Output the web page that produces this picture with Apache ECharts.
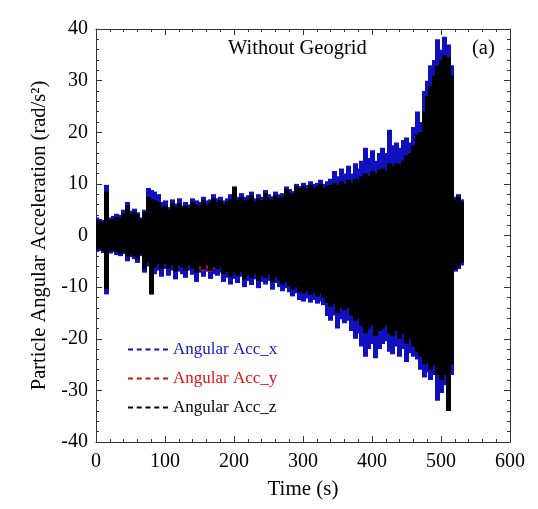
<!DOCTYPE html>
<html>
<head>
<meta charset="utf-8">
<script src="https://cdn.jsdelivr.net/npm/echarts@6/dist/echarts.min.js"></script>
<style>html,body{margin:0;padding:0;background:#fff}#c{width:538px;height:509px}</style>
</head>
<body>
<div id="c"></div>
<script>
// Time stamps (s) of the envelope readings
var times = [0,5,10,15,20,25,30,35,40,45,50,55,60,65,70,75,80,85,90,95,100,105,110,115,120,125,130,135,140,145,150,155,160,165,170,175,180,185,190,195,200,205,210,215,220,225,230,235,240,245,250,255,260,265,270,275,280,285,290,295,300,305,310,315,320,325,330,335,340,345,350,355,360,365,370,375,380,385,390,395,400,405,410,415,420,425,430,435,440,445,450,455,460,465,470,475,480,485,490,495,500,505,510,515,520,525,530];

// Angular Acc_x envelope (blue)
var accXHi = [3.5,3.2,3.0,9.8,3.5,3.8,4.2,4.0,5.0,6.5,4.8,5.2,4.5,3.5,5.0,9.2,8.8,8.5,8.0,6.5,6.8,5.5,7.0,6.2,7.2,5.8,6.5,6.0,7.2,6.8,6.5,7.5,6.8,7.0,8.0,7.2,7.5,6.8,7.2,8.0,9.0,7.5,8.2,7.5,7.8,8.5,7.2,8.0,7.5,8.8,8.0,7.6,8.5,8.0,8.2,9.5,9.0,8.6,10.0,9.6,10.2,9.8,10.5,10.0,10.2,10.8,10.0,10.5,11.0,12.5,11.5,13.0,12.0,13.5,12.0,14.0,13.0,14.5,17.0,15.0,16.5,14.5,16.0,17.0,16.0,20.5,17.5,18.0,17.0,18.5,19.0,18.0,21.0,24.0,22.0,28.0,30.0,33.0,34.0,38.0,36.0,38.5,37.0,33.0,7.5,8.0,7.0];
var accXLo = [-3.2,-3.0,-3.4,-11.4,-3.5,-3.2,-3.8,-4.0,-3.6,-5.0,-4.2,-4.6,-5.3,-4.0,-7.2,-6.0,-11.4,-7.5,-6.8,-8.0,-6.5,-7.8,-6.8,-8.5,-7.0,-7.5,-8.2,-6.8,-7.6,-9.0,-7.2,-8.0,-7.0,-8.4,-7.5,-7.8,-7.2,-9.0,-8.2,-9.5,-8.4,-9.2,-8.0,-10.0,-8.8,-9.6,-8.5,-10.2,-9.0,-9.5,-8.8,-10.5,-9.2,-10.0,-10.8,-10.2,-11.0,-11.8,-11.2,-12.5,-12.8,-12.2,-13.0,-12.5,-13.2,-12.8,-13.5,-15.6,-16.5,-15.5,-18.0,-16.2,-17.0,-16.5,-18.5,-20.0,-19.0,-21.5,-23.5,-22.0,-21.0,-23.8,-22.0,-21.0,-20.5,-22.5,-23.0,-21.5,-23.5,-22.0,-24.5,-22.8,-23.5,-24.0,-26.0,-27.5,-26.5,-28.0,-27.0,-32.0,-30.5,-29.0,-29.5,-27.0,-7.0,-6.5,-5.8];

// Angular Acc_y envelope (red)
var accYHi = [2.5,2.4,2.2,4.0,2.6,2.8,3.0,3.0,3.5,4.5,3.6,3.8,3.4,2.8,3.8,5.5,5.5,5.4,5.2,4.6,4.8,4.2,5.0,4.6,5.0,4.4,4.8,4.6,5.2,5.0,4.8,5.4,5.0,5.2,5.6,5.2,5.4,5.0,5.4,5.6,6.0,5.6,6.0,5.6,5.8,6.2,5.6,6.0,5.8,6.6,6.0,5.8,6.4,6.2,6.2,7.0,6.8,6.6,7.4,7.2,7.6,7.2,7.8,7.4,7.6,8.0,7.4,7.8,8.0,8.2,8.0,8.4,8.2,8.6,8.4,8.8,8.6,9.2,9.6,9.4,10.0,9.8,10.2,10.4,10.2,11.0,11.0,11.4,11.2,11.8,12.5,13.0,14.0,15.5,16.0,19.0,21.0,23.0,24.5,26.0,27.0,28.0,27.5,24.0,5.5,6.0,5.0];
var accYLo = [-2.3,-2.2,-2.5,-4.0,-2.5,-2.4,-2.7,-2.9,-2.7,-3.4,-3.1,-3.3,-3.7,-3.0,-4.8,-4.2,-5.0,-4.8,-4.5,-5.0,-4.5,-5.0,-4.6,-5.4,-4.6,-5.0,-5.4,-4.8,-5.2,-5.8,-6.4,-6.9,-6.3,-7.0,-6.5,-5.6,-5.0,-6.0,-5.6,-6.4,-5.8,-6.2,-5.6,-6.8,-6.0,-6.6,-6.0,-7.0,-6.2,-6.6,-6.0,-7.2,-6.4,-7.0,-7.6,-7.2,-7.8,-8.4,-8.0,-8.8,-9.0,-8.6,-9.2,-8.8,-9.4,-9.0,-9.6,-10.4,-11.0,-10.6,-12.0,-11.2,-11.6,-11.2,-12.4,-13.2,-12.8,-14.0,-15.2,-14.4,-14.0,-15.6,-14.8,-14.4,-14.0,-15.2,-15.6,-14.8,-16.0,-15.2,-16.8,-16.0,-17.2,-18.0,-18.8,-20.0,-19.6,-20.8,-20.0,-21.6,-22.4,-21.6,-24.0,-20.0,-5.0,-4.8,-4.2];

// Angular Acc_z envelope (black)
var accZHi = [3.0,2.8,2.6,8.5,3.0,3.2,3.6,3.4,4.2,5.8,4.2,4.6,4.0,3.2,4.5,7.5,7.0,6.8,6.5,5.5,5.8,5.0,6.2,5.5,6.2,5.2,5.8,5.4,6.5,6.0,5.8,6.8,6.0,6.4,7.2,6.5,6.8,6.2,6.5,7.0,9.5,6.8,7.4,6.8,7.0,7.8,6.6,7.2,6.8,8.2,7.2,6.9,7.8,7.3,7.5,9.0,8.2,8.0,9.5,9.2,9.6,9.0,9.8,9.2,9.5,10.0,9.2,9.6,9.8,10.2,9.8,10.5,10.0,10.8,10.2,11.0,10.5,11.5,12.0,11.5,12.5,12.0,12.8,13.0,12.5,14.0,13.5,14.0,13.8,14.5,15.5,16.0,17.5,19.5,20.0,24.0,27.0,29.0,31.0,33.0,34.0,35.0,34.5,31.0,7.0,7.5,6.5];
var accZLo = [-2.8,-2.6,-3.0,-10.4,-3.0,-2.8,-3.2,-3.5,-3.2,-4.2,-3.8,-4.0,-4.6,-3.6,-6.5,-5.2,-11.4,-6.2,-5.6,-6.5,-5.5,-6.4,-5.8,-7.0,-5.8,-6.2,-6.8,-5.8,-6.4,-7.2,-6.0,-6.6,-5.8,-6.8,-6.2,-6.5,-6.0,-7.5,-7.0,-8.0,-7.2,-7.8,-7.0,-8.5,-7.6,-8.2,-7.4,-8.8,-7.8,-8.2,-7.6,-9.0,-8.0,-8.8,-9.5,-9.0,-9.8,-10.5,-10.0,-11.0,-11.2,-10.8,-11.5,-11.0,-11.8,-11.2,-12.0,-13.0,-13.8,-13.2,-15.0,-14.0,-14.5,-14.0,-15.5,-16.5,-16.0,-17.5,-19.0,-18.0,-17.5,-19.5,-18.5,-18.0,-17.5,-19.0,-19.5,-18.5,-20.0,-19.0,-21.0,-20.0,-21.5,-22.5,-23.5,-25.0,-24.5,-26.0,-25.0,-27.0,-28.0,-27.0,-34.0,-25.0,-6.5,-6.0,-5.2];

var xTicks = [0,100,200,300,400,500,600];
var yTicks = [-40,-30,-20,-10,0,10,20,30,40];

function build(lo, hi){
  return times.map(function(t,i){ return [t, lo[i], hi[i]]; });
}
var half = (times[1]-times[0]) / 2;
function renderItem(params, api){
  var t = api.value(0), lo = api.value(1), hi = api.value(2);
  var p1 = api.coord([t - half, hi]);
  var p2 = api.coord([t + half, lo]);
  return {type:'rect', shape:{x:Math.floor(p1[0]), y:p1[1], width:Math.ceil(p2[0]-p1[0])+1, height:p2[1]-p1[1]},
          style:{fill: api.visual('color')}};
}
var FONT = '"Liberation Serif", "Times New Roman", serif';
function dash(){ return 'path://M0,0h5v2h-5z M8.75,0h5v2h-5z M17.5,0h5v2h-5z M26.25,0h5v2h-5z M35,0h5v2h-5z'; }

var chart = echarts.init(document.getElementById('c'));
function axisCommon(){
  return {
    axisLine:{show:true, onZero:false, lineStyle:{color:'#333', width:1}},
    axisTick:{show:true, inside:true, length:6, lineStyle:{color:'#333'}},
    minorTick:{show:true, splitNumber:5, length:3, lineStyle:{color:'#333'}},
    splitLine:{show:false}
  };
}
chart.setOption({
  animation:false,
  backgroundColor:'#fff',
  grid:{left:96, right:28, top:29, bottom:67},
  xAxis:[
    Object.assign({type:'value', min:xTicks[0], max:xTicks[xTicks.length-1], interval:100, position:'bottom',
      name:'Time (s)', nameLocation:'middle', nameGap:37,
      nameTextStyle:{fontFamily:FONT, fontSize:21, color:'#000'},
      axisLabel:{fontFamily:FONT, fontSize:20, color:'#000', margin:10}}, axisCommon()),
    Object.assign({type:'value', min:xTicks[0], max:xTicks[xTicks.length-1], interval:100, position:'top',
      axisLabel:{show:false}}, axisCommon())
  ],
  yAxis:[
    Object.assign({type:'value', min:yTicks[0], max:yTicks[yTicks.length-1], interval:10, position:'left',
      name:'Particle Angular Acceleration (rad/s²)', nameLocation:'middle', nameGap:37,
      nameTextStyle:{fontFamily:FONT, fontSize:20.5, color:'#000'},
      axisLabel:{fontFamily:FONT, fontSize:20, color:'#000', margin:8}}, axisCommon()),
    Object.assign({type:'value', min:yTicks[0], max:yTicks[yTicks.length-1], interval:10, position:'right',
      axisLabel:{show:false}}, axisCommon())
  ],
  legend:{
    orient:'vertical', left:128, top:341, padding:0, itemWidth:40, itemHeight:2, itemGap:12,
    textStyle:{fontFamily:FONT, fontSize:17},
    data:[
      {name:'Angular Acc_x', icon:dash(), textStyle:{color:'#1515c8'}},
      {name:'Angular Acc_y', icon:dash(), textStyle:{color:'#e01010'}},
      {name:'Angular Acc_z', icon:dash(), textStyle:{color:'#000'}}
    ]
  },
  graphic:[
    {type:'text', left:228, top:38, style:{text:'Without Geogrid', font:'20.5px '+FONT, fill:'#000'}},
    {type:'text', left:472, top:38, style:{text:'(a)', font:'20.5px '+FONT, fill:'#000'}}
  ],
  series:[
    {name:'Angular Acc_x', type:'custom', renderItem:renderItem, clip:true, color:'#1010c0',
     encode:{x:0, y:[1,2]}, data:build(accXLo, accXHi), z:1},
    {name:'Angular Acc_y', type:'custom', renderItem:renderItem, clip:true, color:'#d01010',
     encode:{x:0, y:[1,2]}, data:build(accYLo, accYHi), z:2},
    {name:'Angular Acc_z', type:'custom', renderItem:renderItem, clip:true, color:'#000',
     encode:{x:0, y:[1,2]}, data:build(accZLo, accZHi), z:3}
  ]
});
</script>
</body>
</html>
